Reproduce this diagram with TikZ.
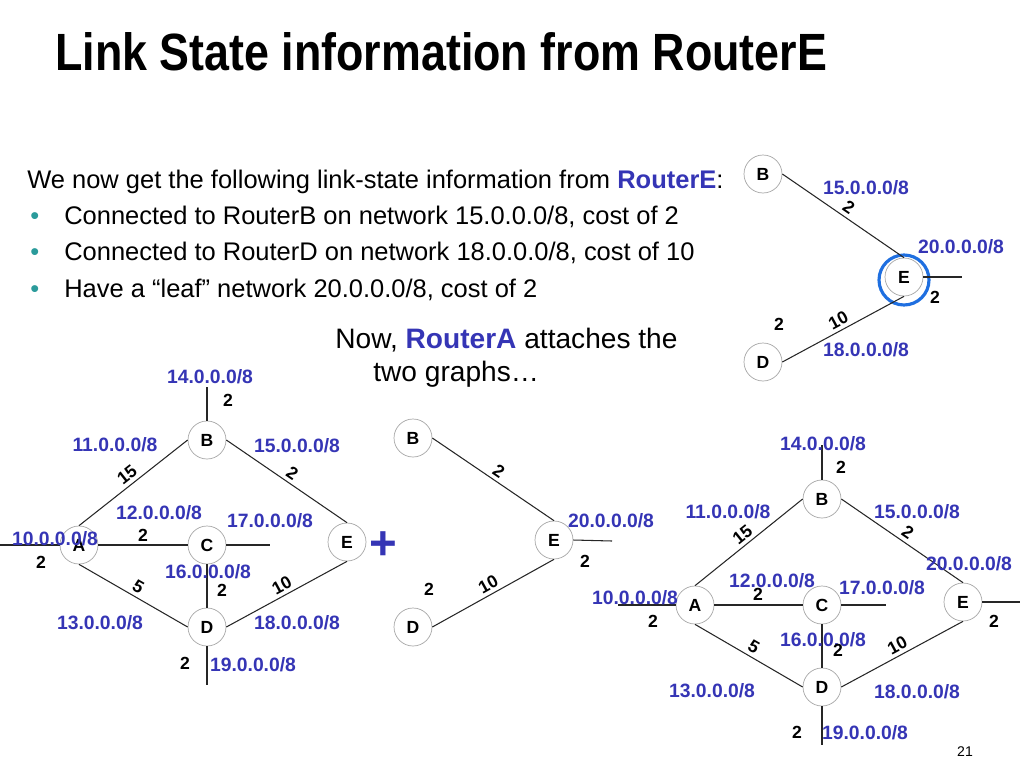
\documentclass[tikz,border=0pt]{standalone}
\usepackage{fontspec}
\setmainfont{Liberation Sans}
\usepackage{xcolor}
\usetikzlibrary{positioning}
\definecolor{netblue}{HTML}{3535B5}
\definecolor{ringblue}{HTML}{1F6FE0}
\definecolor{bulletteal}{HTML}{2B9B9B}

\tikzset{
  router/.style={circle, draw=gray!70, line width=0.4pt, fill=white,
                 minimum size=0.76cm, inner sep=0pt,
                 font=\bfseries\fontsize{10}{12}\selectfont},
  link/.style={draw=black!85, line width=0.6pt},
  net/.style={text=netblue, inner sep=0pt,
              font=\bfseries\fontsize{11}{13}\selectfont},
  cost/.style={inner sep=0pt, font=\bfseries\fontsize{10}{12}\selectfont},
  slopecost/.style={cost, sloped, above, inner sep=2pt, pos=0.5},
  body/.style={anchor=base west, inner sep=0pt,
               font=\fontsize{14.5}{17}\selectfont},
  dot/.style={anchor=base west, inner sep=0pt, text=bulletteal,
              font=\fontsize{14.5}{17}\selectfont}
}

\begin{document}
\begin{tikzpicture}[x=0.02cm, y=-0.02cm]
  \useasboundingbox (0,0) rectangle (1024,768);

  % text
  \begin{scope}[shift={(55,70)}, yscale=1.17]
    \node[anchor=base west, inner sep=0pt, transform shape,
          font=\bfseries\fontsize{25.5}{30}\selectfont]
      (title) at (0,0) {Link State information from RouterE};
  \end{scope}
  \node[body] (intro) at (27,188)
    {We now get the following link-state information from \textcolor{netblue}{\bfseries RouterE}:};
  \node[dot] (d1) at (30,224) {•};
  \node[body] (l1) at (64,224) {Connected to RouterB on network 15.0.0.0/8, cost of 2};
  \node[dot] (d2) at (30,260) {•};
  \node[body] (l2) at (64,260) {Connected to RouterD on network 18.0.0.0/8, cost of 10};
  \node[dot] (d3) at (30,297) {•};
  \node[body] (l3) at (64,297) {Have a “leaf” network 20.0.0.0/8, cost of 2};
  \node[body, font=\fontsize{16}{19}\selectfont] (now1) at (335,348)
    {Now, \textcolor{netblue}{\bfseries RouterA} attaches the};
  \node[body, font=\fontsize{16}{19}\selectfont] (now2) at (373,381) {two graphs…};
  \node[font=\fontsize{8}{10}\selectfont, inner sep=0pt] (page) at (965,752) {21};

  % RouterE view (top right)
  \node[router] (tb) at (763,174) {B};
  \node[router] (te) at (904,277) {E};
  \node[router] (td) at (763,362) {D};
  \node[circle, draw=ringblue, line width=1.8pt, minimum size=1cm, inner sep=0pt]
    (ring) at (904,280) {};
  \coordinate (te-leaf) at (962,277);
  \draw[link] (tb.east) -- node[slopecost] {2} (te.north);
  \draw[link] (td.east) -- node[slopecost] {10} (te.south);
  \draw[link] (te.east) -- (te-leaf);
  \node[net] at (866,188) {15.0.0.0/8};
  \node[net] at (961,247) {20.0.0.0/8};
  \node[net] at (866,350) {18.0.0.0/8};
  \node[cost] at (935,297) {2};
  \node[cost] at (779,324) {2};

  % RouterA graph (left)
  \node[router] (la) at (79,545) {A};
  \node[router] (lb) at (207,440) {B};
  \node[router] (lc) at (207,545) {C};
  \node[router] (ld) at (207,627) {D};
  \node[router] (le) at (347,542) {E};
  \coordinate (la-leaf) at (0,545);
  \coordinate (lb-leaf) at (207,387);
  \coordinate (lc-leaf) at (270,545);
  \coordinate (ld-leaf) at (207,685);
  \draw[link] (la.north) -- node[slopecost] {15} (lb.west);
  \draw[link] (lb.east) -- node[slopecost] {2} (le.north);
  \draw[link] (la.south) -- node[slopecost] {5} (ld.west);
  \draw[link] (ld.east) -- node[slopecost] {10} (le.south);
  \draw[link] (la.east) -- (lc.west);
  \draw[link] (lc.south) -- (ld.north);
  \draw[link] (la.west) -- (la-leaf);
  \draw[link] (lb.north) -- (lb-leaf);
  \draw[link] (lc.east) -- (lc-leaf);
  \draw[link] (ld.south) -- (ld-leaf);
  \node[net] at (210,377) {14.0.0.0/8};
  \node[net] at (115,445) {11.0.0.0/8};
  \node[net] at (297,446) {15.0.0.0/8};
  \node[net] at (159,513) {12.0.0.0/8};
  \node[net] at (270,521) {17.0.0.0/8};
  \node[net] at (55,539) {10.0.0.0/8};
  \node[net] at (208,572) {16.0.0.0/8};
  \node[net] at (100,623) {13.0.0.0/8};
  \node[net] at (297,623) {18.0.0.0/8};
  \node[net] at (253,665) {19.0.0.0/8};
  \node[cost] at (228,400) {2};
  \node[cost] at (143,535) {2};
  \node[cost] at (41,562) {2};
  \node[cost] at (222,590) {2};
  \node[cost] at (185,663) {2};

  \node[text=netblue, inner sep=0pt, font=\bfseries\fontsize{27}{30}\selectfont]
    (plus) at (383,546) {+};

  % RouterE graph (middle)
  \node[router] (mb) at (413,438) {B};
  \node[router] (me) at (554,540) {E};
  \node[router] (md) at (413,627) {D};
  \coordinate (me-leaf) at (612,541);
  \draw[link] (mb.east) -- node[slopecost] {2} (me.north);
  \draw[link] (md.east) -- node[slopecost] {10} (me.south);
  \draw[link] (me.east) -- (me-leaf);
  \node[net] at (611,521) {20.0.0.0/8};
  \node[cost] at (585,561) {2};
  \node[cost] at (429,589) {2};

  % merged graph (right)
  \node[router] (ra) at (695,605) {A};
  \node[router] (rb) at (822,499) {B};
  \node[router] (rc) at (822,605) {C};
  \node[router] (rd) at (822,687) {D};
  \node[router] (re) at (963,602) {E};
  \coordinate (ra-leaf) at (618,605);
  \coordinate (rb-leaf) at (822,445);
  \coordinate (rc-leaf) at (886,605);
  \coordinate (rd-leaf) at (822,745);
  \coordinate (re-leaf) at (1020,602);
  \draw[link] (ra.north) -- node[slopecost] {15} (rb.west);
  \draw[link] (rb.east) -- node[slopecost] {2} (re.north);
  \draw[link] (ra.south) -- node[slopecost] {5} (rd.west);
  \draw[link] (rd.east) -- node[slopecost] {10} (re.south);
  \draw[link] (ra.east) -- (rc.west);
  \draw[link] (rc.south) -- (rd.north);
  \draw[link] (ra.west) -- (ra-leaf);
  \draw[link] (rb.north) -- (rb-leaf);
  \draw[link] (rc.east) -- (rc-leaf);
  \draw[link] (rd.south) -- (rd-leaf);
  \draw[link] (re.east) -- (re-leaf);
  \node[net] at (823,444) {14.0.0.0/8};
  \node[net] at (728,512) {11.0.0.0/8};
  \node[net] at (917,512) {15.0.0.0/8};
  \node[net] at (969,564) {20.0.0.0/8};
  \node[net] at (772,581) {12.0.0.0/8};
  \node[net] at (882,588) {17.0.0.0/8};
  \node[net] at (635,598) {10.0.0.0/8};
  \node[net] at (823,640) {16.0.0.0/8};
  \node[net] at (712,691) {13.0.0.0/8};
  \node[net] at (917,692) {18.0.0.0/8};
  \node[net] at (865,733) {19.0.0.0/8};
  \node[cost] at (841,467) {2};
  \node[cost] at (758,594) {2};
  \node[cost] at (653,621) {2};
  \node[cost] at (994,621) {2};
  \node[cost] at (838,650) {2};
  \node[cost] at (797,732) {2};
\end{tikzpicture}
\end{document}
